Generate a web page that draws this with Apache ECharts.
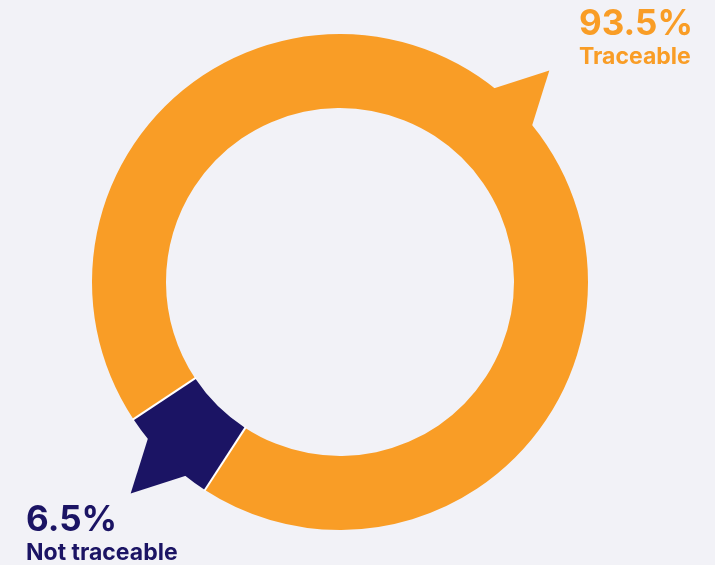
<!DOCTYPE html>
<html><head><meta charset="utf-8">
<script src="https://cdn.jsdelivr.net/npm/echarts@6/dist/echarts.min.js"></script>
<style>html,body{margin:0;padding:0;background:#F2F2F7}#c{width:715px;height:565px}</style>
</head><body><div id="c"></div>
<script>
const categories = ['Traceable', 'Not traceable'];
const values = [93.5, 6.5];
const valueLabels = ['93.5%', '6.5%'];
const colors = ['#F99D26', '#1B1464'];

const START = 213.6;
const total = values.reduce((a, b) => a + b, 0);
const mids = [];
const bounds = [];
let acc = 0;
values.forEach(v => { bounds.push(acc / total * 100); mids.push((acc + v / 2) / total * 100); acc += v; });

const INNER = 174 / 248;
const chart = echarts.init(document.getElementById('c'));
chart.setOption({
  backgroundColor: '#F2F2F7',
  animation: false,
  polar: { center: [340, 282], radius: [0, 297.6] },
  angleAxis: { type: 'value', min: 0, max: 100, startAngle: START, clockwise: true, show: false },
  radiusAxis: { type: 'value', min: 0, max: 1.2, show: false },
  series: [
    {
      type: 'pie',
      center: [340, 282],
      radius: [174, 248],
      startAngle: START,
      clockwise: true,
      label: { show: false },
      labelLine: { show: false },
      emphasis: { disabled: true },
      itemStyle: { borderWidth: 0 },
      z: 2,
      data: categories.map((c, i) => ({ name: c, value: values[i], itemStyle: { color: colors[i] } }))
    },
    {
      type: 'custom',
      coordinateSystem: 'polar',
      z: 3,
      silent: true,
      data: mids.map(m => [1.2, m]),
      renderItem: function (params, api) {
        const i = params.dataIndex;
        const m = api.value(1);
        const pts = [api.coord([0.99, m - 1.8]), api.coord([api.value(0), m]), api.coord([0.99, m + 1.8])];
        return { type: 'polygon', shape: { points: pts }, style: { fill: colors[i] } };
      }
    },
    {
      type: 'custom',
      coordinateSystem: 'polar',
      z: 4,
      silent: true,
      data: bounds.map(b => [1.0, b]),
      renderItem: function (params, api) {
        const a = api.value(1);
        const p1 = api.coord([INNER - 0.005, a]);
        const p2 = api.coord([api.value(0) + 0.005, a]);
        return { type: 'line', shape: { x1: p1[0], y1: p1[1], x2: p2[0], y2: p2[1] }, style: { stroke: '#FFFFFF', lineWidth: 2 } };
      }
    }
  ],
  graphic: [
    { type: 'text', left: 579, top: 7, style: { text: valueLabels[0], font: 'bold 35px Inter', fill: colors[0] } },
    { type: 'text', left: 579, top: 46, style: { text: categories[0], font: 'bold 23px Inter', fill: colors[0] } },
    { type: 'text', left: 26, top: 503, style: { text: valueLabels[1], font: 'bold 35px Inter', fill: colors[1] } },
    { type: 'text', left: 26, top: 542, style: { text: categories[1], font: 'bold 23px Inter', fill: colors[1] } }
  ]
});
</script></body></html>
